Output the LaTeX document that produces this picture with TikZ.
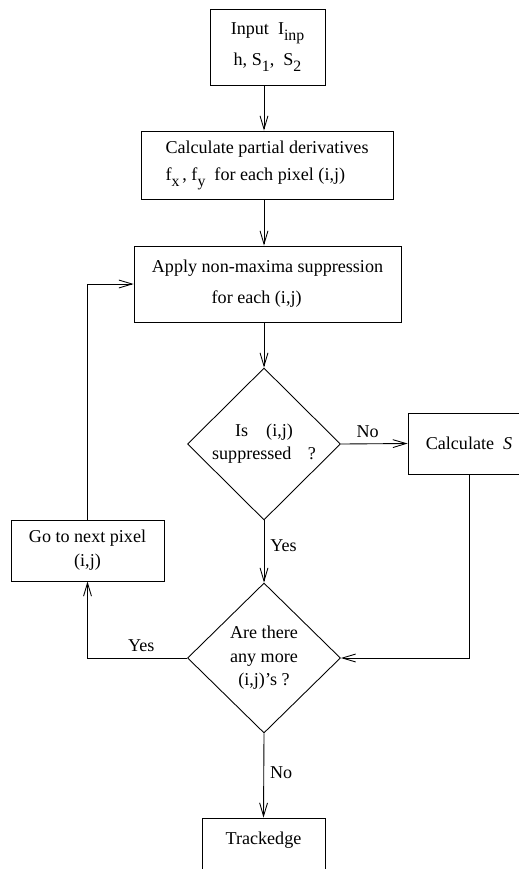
\documentclass[tikz,border=0pt]{standalone}
\usepackage{fontspec}
\setmainfont{Liberation Serif}
\usetikzlibrary{shapes.geometric,arrows.meta}
\newcommand{\lowsub}[1]{\raisebox{-0.7ex}{\small #1}}

\begin{document}
\begin{tikzpicture}
[%%%%%%%%%%%%%%%%%%%%%%%%%%%%%%
x=0.02cm, y=-0.02cm,
font=\fontsize{10.3}{12.5}\selectfont,
>={Straight Barb[length=7.5pt,width=4.5pt]},
box/.style={rectangle,draw=black,line width=0.5pt,inner sep=0pt,align=center},
decision/.style={diamond,draw=black,line width=0.5pt,inner sep=0pt,align=center,minimum width=3.06cm},
link/.style={->,line width=0.5pt},
]%%%%%%%%%%%%%%%%%%%%%%%%%%%%%%
\useasboundingbox (0,0) rectangle (519,869);

\node[box,minimum width=2.30cm,minimum height=1.52cm] (input) at (267.5,47)
  {Input\ \ I\lowsub{inp}\\[5.5pt]h, S\lowsub{1},\ \ S\lowsub{2}};
\node[box,align=left,minimum width=5.04cm,minimum height=1.36cm] (calc) at (267,165)
  {Calculate partial derivatives\\[3pt]f\lowsub{x}\,,\ f\lowsub{y}\ \ for each pixel (i,j)};
\node[box,minimum width=5.34cm,minimum height=1.52cm] (apply) at (267.5,284)
  {Apply non-maxima suppression\\[5pt]for each (i,j)\hspace*{1.2em}};
\node[decision,minimum height=3.04cm] (supp) at (264,444)
  {Is\quad(i,j)\\[0.5pt]suppressed\hspace{0.9em}?};
\node[box,minimum width=2.44cm,minimum height=1.22cm] (calcS) at (469,443.5)
  {Calculate\ \ \textit{S}};
\node[decision,minimum height=3.00cm] (more) at (264,658)
  {Are there\\[0.8pt]any more\\[0.8pt](i,j)'s ?};
\node[box,minimum width=3.06cm,minimum height=1.22cm] (next) at (87.5,550.5)
  {Go to next pixel\\[1pt](i,j)};
\node[box,minimum width=2.46cm,minimum height=1.24cm] (track) at (263.5,849)
  {Trackedge\\[0pt]\mbox{}};

\draw[link] (input.south -| supp.north) -- (calc.north -| supp.north);
\draw[link] (calc.south -| supp.north) -- (apply.north -| supp.north);
\draw[link] (apply.south -| supp.north) -- (supp.north);
\draw[link] (supp.east) -- node[above,pos=0.4]{No} (calcS.west);
\draw[link] (supp.south) -- node[right,pos=0.4]{Yes} (more.north);
\draw[link] (calcS.south) |- (more.east);
\draw[link] (more.west) -| node[above,pos=0.23]{Yes} (next.south);
\draw[link] (next.north) |- (apply.west);
\draw[link] (more.south) -- node[right,pos=0.47]{No} (track.north);
\end{tikzpicture}
\end{document}
